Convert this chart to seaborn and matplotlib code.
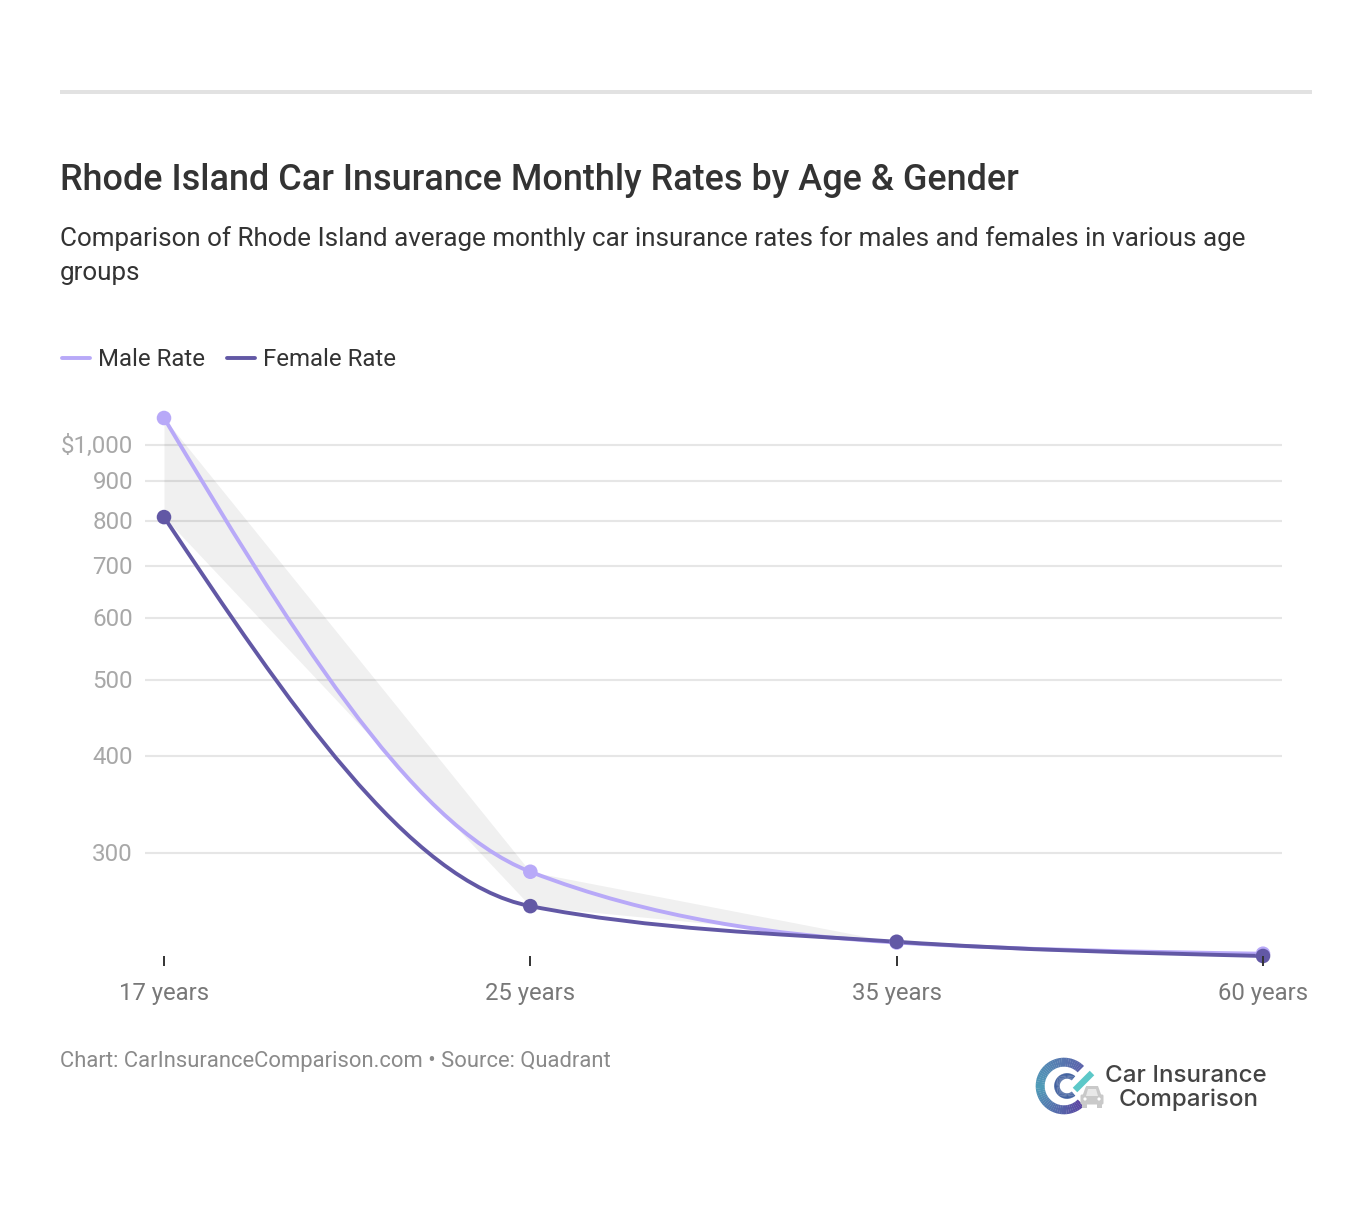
import numpy as np
import pandas as pd
import seaborn as sns
import matplotlib.pyplot as plt
from matplotlib.lines import Line2D
from matplotlib.path import Path
from matplotlib.patches import PathPatch, Wedge, Polygon, Rectangle, Circle, FancyBboxPatch
from matplotlib.colors import to_rgb
from matplotlib.transforms import ScaledTranslation

ages = ['17 years', '25 years', '35 years', '60 years']
male_rate = [1083, 284, 230.5, 223]
female_rate = [808.5, 256.6, 231, 221.5]
y_ticks = [300, 400, 500, 600, 700, 800, 900, 1000]
y_labels = ['300', '400', '500', '600', '700', '800', '900', '$1,000']

MALE = '#b8a9f8'
FEMALE = '#6258a5'
W, H = 1372, 1226


def monotone_path(xs, ys):
    # same curve as d3 curveMonotoneX, done in log space since the axis is log
    xs = np.asarray(xs, dtype=float)
    ly = np.log10(ys)
    h = np.diff(xs)
    s = np.diff(ly) / h
    m = np.zeros(len(xs))
    for i in range(1, len(xs) - 1):
        if s[i - 1] * s[i] > 0:
            p = (s[i - 1] * h[i] + s[i] * h[i - 1]) / (h[i - 1] + h[i])
            m[i] = (np.sign(s[i - 1]) + np.sign(s[i])) * min(abs(s[i - 1]), abs(s[i]), 0.5 * abs(p))
    m[0] = (3 * s[0] - m[1]) / 2
    m[-1] = (3 * s[-1] - m[-2]) / 2
    verts = [(xs[0], ys[0])]
    codes = [Path.MOVETO]
    for i in range(len(h)):
        d = h[i] / 3
        verts += [(xs[i] + d, 10 ** (ly[i] + d * m[i])),
                  (xs[i + 1] - d, 10 ** (ly[i + 1] - d * m[i + 1])),
                  (xs[i + 1], ys[i + 1])]
        codes += [Path.CURVE4] * 3
    return Path(verts, codes)


def logo_colour(a):
    # top right is blue, left is teal, bottom is purple
    top, left, bottom = [np.array(to_rgb(c)) for c in ('#5a62aa', '#4f9cb8', '#5a3fa0')]
    if a < 180:
        t = (a - 45) / 135
        return top * (1 - t) + left * t
    t = (a - 180) / 135
    return left * (1 - t) + bottom * t


sns.set_theme(style='white')
plt.rcParams['font.family'] = ['Roboto', 'DejaVu Sans']

fig = plt.figure(figsize=(W / 100, H / 100), dpi=100, facecolor='white')
ax = fig.add_axes([145 / W, 1 - 956 / H, (1282 - 145) / W, (956 - 418) / H])
ax.set_facecolor('none')

x = np.arange(len(ages))
ax.set_yscale('log')
ax.fill_between(x, male_rate, female_rate, color='black', alpha=0.06, linewidth=0, zorder=1)

for vals, col, z in [(male_rate, MALE, 3), (female_rate, FEMALE, 4)]:
    ax.add_patch(PathPatch(monotone_path(x, vals), fill=False, edgecolor=col, linewidth=2.8,
                           capstyle='round', zorder=z, clip_on=False))

df = pd.DataFrame({
    'x': np.concatenate([x, x]),
    'rate': male_rate + female_rate,
    'series': ['Male Rate'] * 4 + ['Female Rate'] * 4,
})
sns.scatterplot(data=df, x='x', y='rate', hue='series', palette={'Male Rate': MALE, 'Female Rate': FEMALE},
                s=110, linewidth=0, legend=False, zorder=5, clip_on=False, ax=ax)

pad = 19 / ((1263 - 164) / 3)
ax.set_xlim(-pad, 3 + pad)
ax.set_ylim(min(female_rate), max(male_rate))
ax.set_xlabel('')
ax.set_ylabel('')

ax.set_xticks(x)
ax.set_xticklabels(ages)
ax.set_yticks(y_ticks)
ax.set_yticklabels(y_labels)
ax.minorticks_off()
ax.yaxis.grid(True, color='#e6e6e6', linewidth=1.5)
ax.xaxis.grid(False)
ax.tick_params(axis='y', length=0, pad=8.7, labelsize=17.4, labelcolor='#a8a8a8')
ax.tick_params(axis='x', length=7.2, width=1.4, color='#333333', pad=11.3, labelsize=17.2, labelcolor='#787878',
               bottom=True)
ax.set_axisbelow(True)
ax.xaxis.set_zorder(10)
sns.despine(ax=ax, left=True, bottom=True)
nudge = ScaledTranslation(0, 1 / 100, fig.dpi_scale_trans)
for lab in ax.get_yticklabels():
    lab.set_transform(lab.get_transform() + nudge)

# overlay in pixel coordinates for header, legend, footer and logo
ov = fig.add_axes([0, 0, 1, 1], zorder=-1)
ov.set_xlim(0, W)
ov.set_ylim(H, 0)
ov.axis('off')

ov.add_patch(Rectangle((60, 90), 1252, 4, color='#e2e2e2', linewidth=0))
ov.text(60, 180.5, 'Rhode Island Car Insurance Monthly Rates by Age & Gender', fontsize=25.9, fontweight='medium',
        color='#333333', va='center', ha='left')
ov.text(60, 239, 'Comparison of Rhode Island average monthly car insurance rates for males and females in various age',
        fontsize=18.7, color='#333333', va='center', ha='left')
ov.text(60, 273, 'groups', fontsize=18.7, color='#333333', va='center', ha='left')

ov.add_line(Line2D([62, 90], [358, 358], color=MALE, linewidth=2.8, solid_capstyle='round'))
ov.text(98, 360, 'Male Rate', fontsize=17.25, color='#333333', va='center', ha='left')
ov.add_line(Line2D([227, 255], [358, 358], color=FEMALE, linewidth=2.8, solid_capstyle='round'))
ov.text(263, 360, 'Female Rate', fontsize=17.25, color='#333333', va='center', ha='left')

ov.text(60, 1061, 'Chart: CarInsuranceComparison.com • Source: Quadrant', fontsize=15.8, color='#8a8a8a',
        va='center', ha='left')

# logo
cx, cy = 1064, 1086
for a in np.arange(45, 315, 5):
    # y axis is flipped, so angles run clockwise on screen
    ov.add_patch(Wedge((cx, cy), 28.3, 360 - a - 5.5, 360 - a, width=9, color=logo_colour(a), linewidth=0))
for a in np.arange(50, 310, 5):
    ov.add_patch(Wedge((cx + 3, cy), 12.8, 360 - a - 5.5, 360 - a, width=5.5, color='#42619f', linewidth=0))
ov.add_line(Line2D([1075, 1092], [1090, 1073], color='white', linewidth=7.5, solid_capstyle='butt'))
ov.add_line(Line2D([1075, 1092], [1090, 1073], color='#5cc8c8', linewidth=4.6, solid_capstyle='butt'))
# car, front view
ov.add_patch(Polygon([(1082, 1097), (1086, 1086), (1098, 1086), (1102, 1097)], closed=True, color='#c9c9c9', linewidth=0))
ov.add_patch(FancyBboxPatch((1082, 1096), 20, 7, boxstyle='round,pad=1.5', color='#c9c9c9', linewidth=0))
ov.add_patch(Polygon([(1086, 1096), (1088, 1089), (1096, 1089), (1098, 1096)], closed=True, color='#e8e8e8', linewidth=0))
ov.add_patch(Rectangle((1082, 1104), 5, 4, color='#c9c9c9', linewidth=0))
ov.add_patch(Rectangle((1097, 1104), 5, 4, color='#c9c9c9', linewidth=0))
ov.add_patch(Circle((1085, 1099), 1.6, color='white', linewidth=0))
ov.add_patch(Circle((1099, 1099), 1.6, color='white', linewidth=0))

ov.text(1186, 1076, 'Car Insurance', fontsize=17.4, fontweight='medium', color='#444444', va='center', ha='center',
        family='Inter')
ov.text(1189, 1100, 'Comparison', fontsize=17.4, fontweight='medium', color='#444444', va='center', ha='center',
        family='Inter')

fig.savefig('out.png', dpi=100)
